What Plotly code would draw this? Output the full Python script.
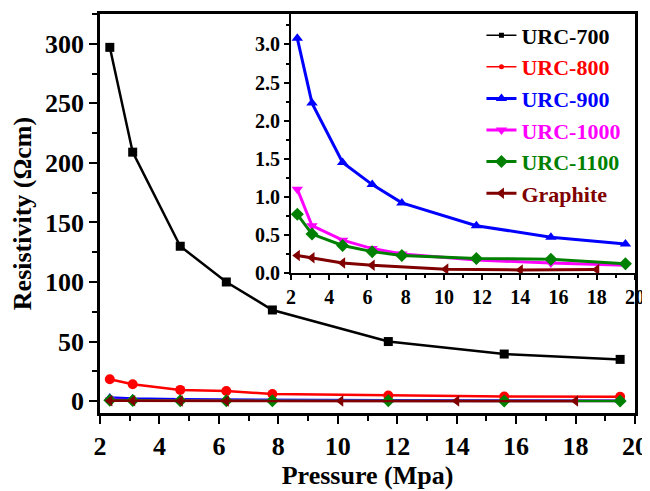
import plotly.graph_objects as go

# ---- data ----
pressure = [2.33, 3.1, 4.7, 6.25, 7.8, 11.7, 15.6, 19.5]
pressure_graphite = [2.33, 3.1, 4.7, 6.25, 10.1, 14.0, 18.0]
urc700 = [297, 209, 130, 100, 76.5, 50, 39.5, 35]
urc800 = [18.3, 14.2, 9.4, 8.5, 6.0, 4.6, 3.8, 3.6]
urc900 = [3.08, 2.23, 1.45, 1.16, 0.92, 0.62, 0.47, 0.38]
urc1000 = [1.10, 0.62, 0.43, 0.32, 0.25, 0.17, 0.13, 0.10]
urc1100 = [0.77, 0.51, 0.36, 0.28, 0.23, 0.19, 0.18, 0.12]
graphite = [0.23, 0.20, 0.13, 0.10, 0.05, 0.04, 0.045]

names = ["URC-700", "URC-800", "URC-900", "URC-1000", "URC-1100", "Graphite"]
xs = [pressure, pressure, pressure, pressure, pressure, pressure_graphite]
ys = [urc700, urc800, urc900, urc1000, urc1100, graphite]
colors = ["#000000", "#FF0000", "#0000FF", "#FF00FF", "#008000", "#800000"]
symbols = ["square", "circle", "triangle-up", "triangle-down", "diamond", "triangle-left"]

FONT = "Liberation Serif"

main_msize = [9, 10, 9, 9, 10, 10]
inset_msize = [5, 5, 10, 10, 10, 10]
inset_lw = [1.5, 1.5, 3, 3, 3, 3]

fig = go.Figure()

for i in range(6):
    fig.add_trace(go.Scatter(
        x=xs[i], y=ys[i], mode="lines+markers",
        line=dict(color=colors[i], width=2.5),
        marker=dict(symbol=symbols[i], size=main_msize[i], color=colors[i]),
        showlegend=False, xaxis="x", yaxis="y"))

for i in range(6):
    fig.add_trace(go.Scatter(
        x=xs[i], y=ys[i], mode="lines+markers",
        name=f"<span style='color:{colors[i]}'>{names[i]}</span>",
        line=dict(color=colors[i], width=inset_lw[i]),
        marker=dict(symbol=symbols[i], size=inset_msize[i], color=colors[i]),
        showlegend=True, xaxis="x2", yaxis="y2"))

axis_common = dict(showline=True, linecolor="black", mirror=True, showgrid=False,
                   zeroline=False, ticks="outside", tickcolor="black", automargin=False)

# page body adds an 8px offset; figure is sized so it fits the 650x491 window
fig.update_layout(
    width=642, height=483,
    margin=dict(l=92, r=15, t=6, b=78),
    paper_bgcolor="white", plot_bgcolor="white",
    font=dict(family=FONT, color="black"),
    xaxis=dict(axis_common, range=[2, 20], dtick=2, linewidth=2.5, tickwidth=2, ticklen=8,
               minor=dict(dtick=1, ticks="outside", ticklen=5, tickwidth=2, tickcolor="black"),
               tickfont=dict(size=26, weight="bold", family=FONT),
               title=dict(text="Pressure (Mpa)", font=dict(size=26, weight="bold", family=FONT),
                          standoff=6)),
    yaxis=dict(axis_common, range=[-10, 325], dtick=50, linewidth=2.5, tickwidth=2, ticklen=8,
               minor=dict(dtick=25, ticks="outside", ticklen=5, tickwidth=2, tickcolor="black"),
               tickfont=dict(size=26, weight="bold", family=FONT),
               title=dict(text="Resistivity (Ωcm)", font=dict(size=26, weight="bold", family=FONT),
                          standoff=8)),
    xaxis2=dict(axis_common, domain=[0.357, 1], anchor="y2", range=[2, 20], dtick=2,
                linewidth=2, tickwidth=1.5, ticklen=5,
                minor=dict(dtick=1, ticks="outside", ticklen=3, tickwidth=1.5, tickcolor="black"),
                tickfont=dict(size=20, weight="bold", family=FONT)),
    yaxis2=dict(axis_common, domain=[0.351, 1], anchor="x2", range=[0, 3.4], dtick=0.5,
                tickformat=".1f", linewidth=2, tickwidth=1.5, ticklen=5,
                minor=dict(dtick=0.25, ticks="outside", ticklen=3, tickwidth=1.5, tickcolor="black"),
                tickfont=dict(size=20, weight="bold", family=FONT)),
    legend=dict(x=0.713, y=0.999, xanchor="left", yanchor="top",
                bgcolor="rgba(0,0,0,0)", tracegroupgap=0,
                font=dict(size=22, weight="bold", family=FONT)),
)

fig.write_html("out.html")
